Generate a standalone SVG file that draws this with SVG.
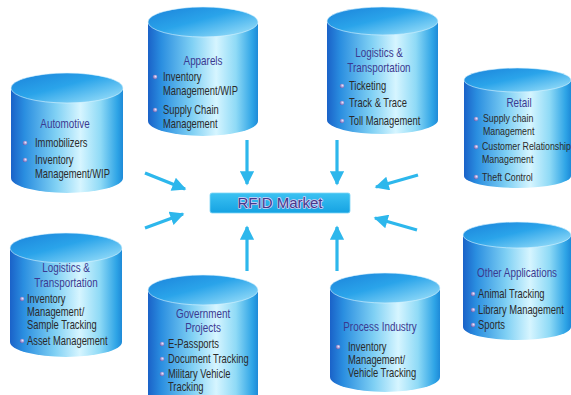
<svg xmlns="http://www.w3.org/2000/svg" width="571" height="395" viewBox="0 0 571 395">
<defs>
<linearGradient id="body" x1="0" y1="0" x2="1" y2="0">
<stop offset="0" stop-color="#1a62c8"/>
<stop offset="0.12" stop-color="#2a8ee0"/>
<stop offset="0.4" stop-color="#7fd0f4"/>
<stop offset="0.62" stop-color="#d6f5ff"/>
<stop offset="0.8" stop-color="#8fdaf6"/>
<stop offset="0.95" stop-color="#2ea4e6"/>
<stop offset="1" stop-color="#1e8ad8"/>
</linearGradient>
<linearGradient id="top" x1="0" y1="0" x2="1" y2="1">
<stop offset="0" stop-color="#1b82da"/>
<stop offset="0.45" stop-color="#2aa4ea"/>
<stop offset="1" stop-color="#a8e6fb"/>
</linearGradient>
<linearGradient id="box" x1="0" y1="0" x2="0" y2="1">
<stop offset="0" stop-color="#3cc2f2"/>
<stop offset="1" stop-color="#15a2e2"/>
</linearGradient>
<radialGradient id="dot" cx="0.6" cy="0.4" r="0.6">
<stop offset="0" stop-color="#e8e4ff"/>
<stop offset="1" stop-color="#6a5fb0"/>
</radialGradient>
<marker id="ah" viewBox="0 0 10 10" refX="9" refY="5" markerWidth="4.6" markerHeight="4.4" markerUnits="strokeWidth" orient="auto">
<path d="M0,0 L10,5 L0,10 Z" fill="#2db7ec"/>
</marker>
<style>
.b{fill:url(#body)}
.t{fill:url(#top);stroke:#d8f4ff;stroke-width:0.6}
.h{font-family:"Liberation Sans",Arial,sans-serif;font-size:13px;fill:#3b3990;text-anchor:middle;transform-box:fill-box;transform-origin:50% 50%;transform:scaleX(0.76)}
.i{font-family:"Liberation Sans",Arial,sans-serif;font-size:12.5px;fill:#2a2a2a;transform-box:fill-box;transform-origin:0 50%;transform:scaleX(0.75)}
.n{font-size:11px;transform:scaleX(0.8)}
.d{fill:url(#dot)}
.a{stroke:#2db7ec;stroke-width:3.2;fill:none;marker-end:url(#ah)}
</style>
</defs>
<rect width="571" height="395" fill="#ffffff"/>

<g id="connectors">
<path class="a" d="M247,140 L247,184"/>
<path class="a" d="M337,140 L337,184"/>
<path class="a" d="M247,271 L247,227"/>
<path class="a" d="M337,271 L337,227"/>
<path class="a" d="M145,173 L185,189"/>
<path class="a" d="M145,228 L183,214"/>
<path class="a" d="M418,175 L376,187"/>
<path class="a" d="M417,230 L375,218"/>
</g>

<g id="rfid">
<rect x="210" y="193" width="140" height="20" rx="2" fill="url(#box)" stroke="#7fd6f6" stroke-width="0.8"/>
<text x="280" y="208" text-anchor="middle" font-family="Liberation Sans, Arial, sans-serif" font-size="15" fill="#45398a" stroke="#d4d0f6" stroke-width="1.6" paint-order="stroke" stroke-linejoin="round">RFID Market</text>
</g>

<g id="automotive">
<path class="b" d="M11,88 V178 A56,15 0 0 0 123,178 V88 Z"/>
<ellipse class="t" cx="67" cy="88" rx="56" ry="15"/>
<text class="h" x="65" y="128">Automotive</text>
<circle class="d" cx="25" cy="143" r="2.3"/>
<text class="i" x="35" y="147">Immobilizers</text>
<circle class="d" cx="25" cy="160" r="2.3"/>
<text class="i" x="35" y="164">Inventory</text>
<text class="i" x="35" y="178">Management/WIP</text>
</g>

<g id="apparels">
<path class="b" d="M148,22 V121 A55,15 0 0 0 258,121 V22 Z"/>
<ellipse class="t" cx="203" cy="22" rx="55" ry="15"/>
<text class="h" x="203" y="65">Apparels</text>
<circle class="d" cx="155" cy="77" r="2.3"/>
<text class="i" x="163" y="81">Inventory</text>
<text class="i" x="163" y="95">Management/WIP</text>
<circle class="d" cx="155" cy="110" r="2.3"/>
<text class="i" x="163" y="114">Supply Chain</text>
<text class="i" x="163" y="128">Management</text>
</g>

<g id="logistics-top">
<path class="b" d="M327,21 V120 A55.5,14 0 0 0 438,120 V21 Z"/>
<ellipse class="t" cx="382.5" cy="21" rx="55.5" ry="14"/>
<text class="h" x="379" y="57">Logistics &amp;</text>
<text class="h" x="379" y="72">Transportation</text>
<circle class="d" cx="342" cy="86" r="2.3"/>
<text class="i" x="349" y="90">Ticketing</text>
<circle class="d" cx="342" cy="103" r="2.3"/>
<text class="i" x="349" y="107">Track &amp; Trace</text>
<circle class="d" cx="342" cy="121" r="2.3"/>
<text class="i" x="349" y="125">Toll Management</text>
</g>

<g id="retail">
<path class="b" d="M464,80 V176 A53.5,12 0 0 0 571,176 V80 Z"/>
<ellipse class="t" cx="517.5" cy="80" rx="53.5" ry="12"/>
<text class="h" x="519" y="107">Retail</text>
<circle class="d" cx="476" cy="119" r="2.3"/>
<text class="i n" x="483" y="122">Supply chain</text>
<text class="i n" x="483" y="135">Management</text>
<circle class="d" cx="476" cy="147" r="2.3"/>
<text class="i n" x="482" y="150">Customer Relationship</text>
<text class="i n" x="482" y="163">Management</text>
<circle class="d" cx="476" cy="177" r="2.3"/>
<text class="i n" x="482" y="181">Theft Control</text>
</g>

<g id="logistics-bottom">
<path class="b" d="M10,248 V342 A56,15 0 0 0 122,342 V248 Z"/>
<ellipse class="t" cx="66" cy="248" rx="56" ry="15"/>
<text class="h" x="66" y="272">Logistics &amp;</text>
<text class="h" x="66" y="287">Transportation</text>
<circle class="d" cx="22" cy="299" r="2.3"/>
<text class="i" x="27" y="303">Inventory</text>
<text class="i" x="27" y="316">Management/</text>
<text class="i" x="27" y="329">Sample Tracking</text>
<circle class="d" cx="22" cy="341" r="2.3"/>
<text class="i" x="27" y="345">Asset Management</text>
</g>

<g id="government">
<path class="b" d="M148,290 V410 A55,15 0 0 0 258,410 V290 Z"/>
<ellipse class="t" cx="203" cy="290" rx="55" ry="15"/>
<text class="h" x="203" y="318">Government</text>
<text class="h" x="203" y="332">Projects</text>
<circle class="d" cx="162" cy="344" r="2.3"/>
<text class="i" x="168" y="348">E-Passports</text>
<circle class="d" cx="162" cy="359" r="2.3"/>
<text class="i" x="168" y="363">Document Tracking</text>
<circle class="d" cx="162" cy="374" r="2.3"/>
<text class="i" x="168" y="378">Military Vehicle</text>
<text class="i" x="168" y="391">Tracking</text>
</g>

<g id="process">
<path class="b" d="M330,288 V377 A55,15 0 0 0 440,377 V288 Z"/>
<ellipse class="t" cx="385" cy="288" rx="55" ry="15"/>
<text class="h" x="380" y="331">Process Industry</text>
<circle class="d" cx="338" cy="347" r="2.3"/>
<text class="i" x="348" y="351">Inventory</text>
<text class="i" x="348" y="364">Management/</text>
<text class="i" x="348" y="377">Vehicle Tracking</text>
</g>

<g id="other">
<path class="b" d="M463,235 V327 A54,13 0 0 0 571,327 V235 Z"/>
<ellipse class="t" cx="517" cy="235" rx="54" ry="13"/>
<text class="h" x="517" y="277">Other Applications</text>
<circle class="d" cx="473" cy="294" r="2.3"/>
<text class="i" x="478" y="298">Animal Tracking</text>
<circle class="d" cx="473" cy="310" r="2.3"/>
<text class="i" x="478" y="314">Library Management</text>
<circle class="d" cx="473" cy="325" r="2.3"/>
<text class="i" x="478" y="329">Sports</text>
</g>
</svg>
